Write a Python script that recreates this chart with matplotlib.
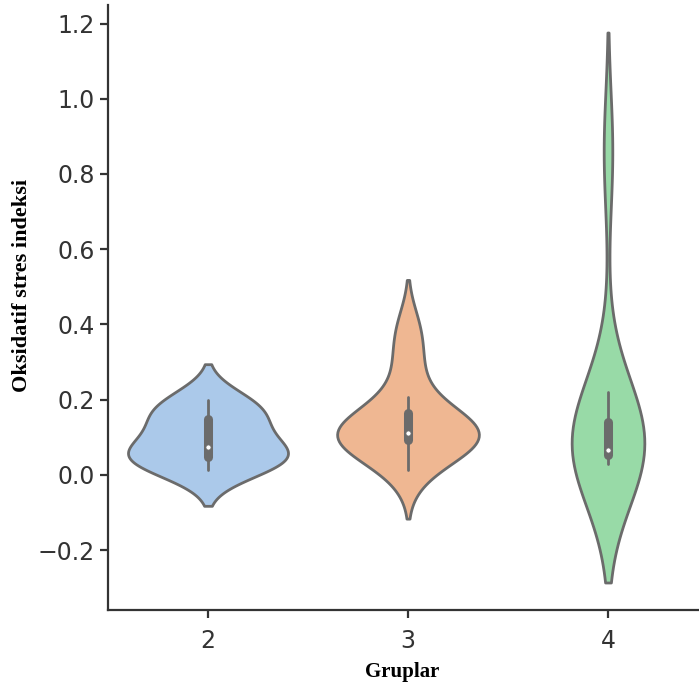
import numpy as np
import pandas as pd
import seaborn as sns
import matplotlib
matplotlib.use('Agg')
import matplotlib.pyplot as plt
from matplotlib.collections import PolyCollection

# veri
gruplar = ['2', '3', '4']
grup2 = [0.012, 0.04, 0.055, 0.075, 0.13, 0.165, 0.2]
grup3 = [0.012, 0.065, 0.085, 0.094, 0.1, 0.108, 0.116, 0.14, 0.15, 0.207, 0.3, 0.39]
grup4 = [0.03, 0.045, 0.05, 0.058, 0.062, 0.072, 0.12, 0.147, 0.22, 0.86]
renkler = sns.color_palette('pastel', 3)
gri = '#6b6b6b'

sns.set_style('ticks')
plt.rcParams['font.family'] = ['DejaVu Sans']

satirlar = []
for g, vals in zip(gruplar, [grup2, grup3, grup4]):
	for v in vals:
		satirlar.append((g, v))
df = pd.DataFrame(satirlar, columns=['Gruplar', 'deger'])

fig = plt.figure(figsize=(6.99, 6.89), dpi=100)
ax = fig.add_axes([108/699, 79/689, 600/699, 605/689])

# hue yok -> alan normu tum kemanlar icin ortak
sns.violinplot(data=df, x='Gruplar', y='deger', order=gruplar, color='white',
	inner=None, density_norm='area', linewidth=2.0, linecolor=gri, ax=ax)
polys = [c for c in ax.collections if isinstance(c, PolyCollection)]
for p, c in zip(polys, renkler):
	p.set_facecolor(sns.desaturate(c, 0.75))

# ic kutu: ceyrekler, biyiklar, medyan
for i, vals in enumerate([grup2, grup3, grup4]):
	vals = np.array(vals)
	q25, q50, q75 = np.percentile(vals, [25, 50, 75])
	lim = 1.5*(q75-q25)
	lo = vals[vals >= q25-lim].min()
	hi = vals[vals <= q75+lim].max()
	ax.plot([i, i], [lo, hi], lw=2.0, color=gri, zorder=3)
	ax.plot([i, i], [q25, q75], lw=6.5, color=gri, zorder=3)
	ax.scatter(i, q50, s=14, color='white', edgecolor=gri, linewidth=0.6, zorder=4)

ax.set_xlim(-0.5, 2.5)
ax.set_xlabel('')
ax.set_ylabel('')
ax.set_yticks([-0.2, 0.0, 0.2, 0.4, 0.6, 0.8, 1.0, 1.2])
ax.tick_params(labelsize=17, colors='#333333', width=1.6, length=6)
ax.tick_params(axis='x', pad=8)
for s in ['left', 'bottom']:
	ax.spines[s].set_linewidth(1.6)
	ax.spines[s].set_color('#333333')
sns.despine(ax=ax)

fig.text(402/699, 1-672/689, 'Gruplar', ha='center', va='center',
	family='Liberation Serif', fontweight='bold', fontsize=15, color='black')
fig.text(22/699, 1-285/689, 'Oksidatif stres indeksi', ha='center', va='center',
	rotation=90, family='Liberation Serif', fontweight='bold', fontsize=16, color='black')

fig.savefig('out.png', dpi=100)
